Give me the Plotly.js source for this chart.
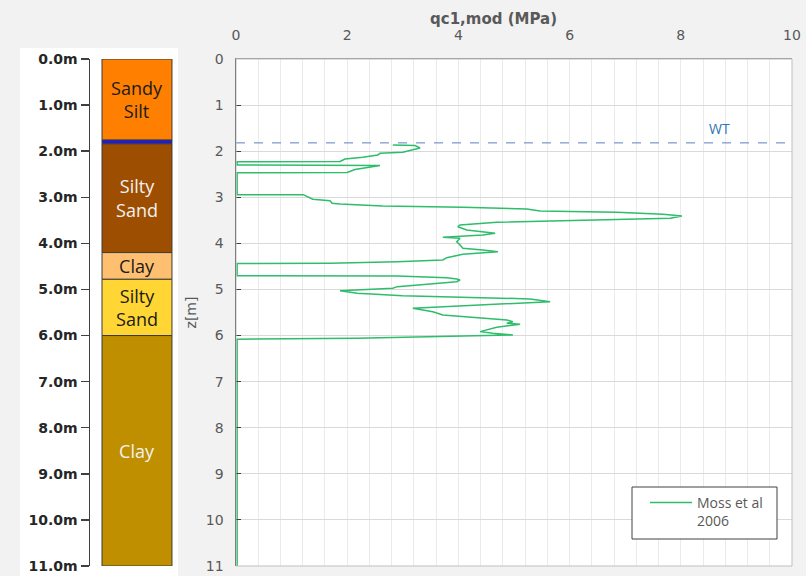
<!DOCTYPE html>
<html>
<head>
<meta charset="utf-8">
<script src="https://cdn.plot.ly/plotly-3.0.1.min.js"></script>
<style>
  html, body { margin: 0; padding: 0; background: #F2F2F2; }
  #chart { width: 806px; height: 576px; }
</style>
</head>
<body>
<div id="chart"></div>
<script>
// CPT profile: normalised cone resistance qc1,mod (MPa) against depth z (m)
const depth = [1.866, 1.876, 1.931, 2.011, 2.024, 2.046, 2.082, 2.132, 2.169, 2.223, 2.228,
  2.299, 2.304, 2.310, 2.397, 2.462, 2.466, 2.944, 2.944, 2.987, 3.043, 3.074, 3.130, 3.145,
  3.189, 3.217, 3.254, 3.297, 3.325, 3.369, 3.406, 3.456, 3.492, 3.542, 3.601, 3.638, 3.709,
  3.781, 3.818, 3.855, 3.868, 3.889, 3.963, 4.035, 4.106, 4.143, 4.180, 4.215, 4.236, 4.310,
  4.360, 4.397, 4.432, 4.436, 4.701, 4.707, 4.744, 4.772, 4.794, 4.831, 4.939, 4.974, 5.026,
  5.082, 5.134, 5.206, 5.265, 5.408, 5.482, 5.553, 5.662, 5.699, 5.733, 5.755, 5.820, 5.915,
  5.950, 5.987, 6.059, 6.080, 11.0];
const qc1mod = [2.82, 3.22, 3.31, 3.04, 3.00, 2.59, 2.55, 2.28, 1.96, 1.87, 0.02,
  0.02, 2.34, 2.59, 2.14, 2.00, 0.02, 0.02, 1.21, 1.29, 1.38, 1.69, 1.73, 1.87,
  2.64, 4.08, 5.23, 5.47, 6.85, 7.68, 8.02, 7.81, 6.49, 4.69, 4.03, 3.99, 4.15,
  4.66, 4.44, 3.97, 3.72, 4.03, 3.97, 4.03, 4.08, 4.44, 4.71, 4.33, 4.08, 3.79,
  3.72, 2.90, 1.69, 0.02, 0.02, 2.90, 3.79, 3.97, 4.03, 3.97, 2.90, 2.82, 1.87,
  2.18, 3.00, 5.29, 5.65, 3.18, 3.54, 3.72, 4.87, 4.98, 4.87, 5.11, 4.69, 4.39,
  4.62, 4.98, 2.18, 0.02, 0.02];

// Water table
const wtDepth = 1.82;
const wtRange = [0, 10];

// Soil column
const layerNames  = ['Sandy<br>Silt', '', 'Silty<br>Sand', 'Clay', 'Silty<br>Sand', 'Clay'];
const layerTop    = [0.00, 1.76, 1.84, 4.20, 4.78, 6.00];
const layerBottom = [1.76, 1.84, 4.20, 4.78, 6.00, 11.00];
const layerFill   = ['#FF8000', '#1A1AF0', '#9E4E00', '#FFBF70', '#FFD633', '#BF8F00'];
const layerText   = ['#1A1A1A', '#FFFFFF', '#F2F2F2', '#1A1A1A', '#1A1A1A', '#F2F2F2'];

// Depth ticks
const depthTicks = [0, 1, 2, 3, 4, 5, 6, 7, 8, 9, 10, 11];
const depthTickText = depthTicks.map(d => d.toFixed(1) + 'm');

const W = 806, H = 576;
const px = v => v / W;
const py = v => 1 - v / H;
const plotY = [py(566), py(59)];

const soil = {
  type: 'bar',
  xaxis: 'x2', yaxis: 'y2',
  x: layerTop.map(() => 0.534),
  base: layerTop,
  y: layerTop.map((t, i) => layerBottom[i] - t),
  width: 0.795,
  marker: { color: layerFill, line: { color: '#3A3A3A', width: 1 } },
  text: layerNames,
  textposition: 'inside',
  insidetextanchor: 'middle',
  textangle: 0,
  constraintext: 'none',
  textfont: { family: 'Open Sans, sans-serif', size: 18, color: layerText },
  hoverinfo: 'skip',
  showlegend: false
};

const profile = {
  type: 'scatter', mode: 'lines',
  x: qc1mod, y: depth,
  name: 'Moss et al<br>2006',
  line: { color: '#2EBD6B', width: 1.5 },
  hoverinfo: 'x+y'
};

const wt = {
  type: 'scatter', mode: 'lines',
  x: wtRange, y: [wtDepth, wtDepth],
  line: { color: '#5B7FC4', width: 1, dash: 'dash' },
  hoverinfo: 'skip',
  showlegend: false
};

const gray = '#595959';
const axisFont = 'DejaVu Sans, sans-serif';

const layout = {
  width: W, height: H,
  margin: { l: 0, r: 0, t: 0, b: 0 },
  paper_bgcolor: '#F2F2F2',
  plot_bgcolor: '#FFFFFF',
  barmode: 'overlay',
  font: { family: 'Open Sans, sans-serif', color: gray },
  xaxis: {
    domain: [px(236), px(792)],
    anchor: 'y',
    side: 'top',
    range: [0, 10],
    dtick: 2,
    showgrid: true,
    gridcolor: '#EBEBEB',
    minor: { dtick: 0.4, showgrid: true, gridcolor: '#EBEBEB', gridwidth: 1 },
    zeroline: false,
    showline: true,
    linecolor: '#8C8C8C',
    linewidth: 1,
    ticks: '',
    ticklabelstandoff: 12,
    tickfont: { family: axisFont, size: 14, color: gray }
  },
  yaxis: {
    domain: plotY,
    anchor: 'x',
    range: [11, 0],
    dtick: 1,
    showgrid: true,
    gridcolor: '#D9D9D9',
    zeroline: false,
    showline: true,
    linecolor: '#404040',
    linewidth: 1.5,
    ticks: 'inside',
    ticklen: 5,
    tickcolor: '#404040',
    ticklabelstandoff: 8,
    tickfont: { family: axisFont, size: 14, color: gray },
    title: { text: 'z[m]', font: { family: axisFont, size: 14, color: gray }, standoff: 6 }
  },
  xaxis2: {
    domain: [px(90), px(178)],
    anchor: 'y2',
    range: [0, 1],
    visible: false,
    fixedrange: true
  },
  yaxis2: {
    domain: plotY,
    anchor: 'x2',
    range: [11, 0],
    tickvals: depthTicks,
    ticktext: depthTickText,
    showgrid: false,
    zeroline: false,
    showline: true,
    linecolor: '#404040',
    linewidth: 1.5,
    ticks: 'outside',
    ticklen: 8,
    tickwidth: 1.5,
    tickcolor: '#404040',
    ticklabelstandoff: 0,
    tickfont: { size: 14, color: '#262626', family: axisFont, weight: 'bold' }
  },
  shapes: [
    // white panel behind the soil column
    { type: 'rect', xref: 'paper', yref: 'paper', layer: 'below',
      x0: px(20), x1: px(178), y0: 0, y1: py(48),
      fillcolor: '#FFFFFF', line: { width: 0 } },
    // plot frame
    { type: 'rect', xref: 'paper', yref: 'paper', layer: 'above',
      x0: px(236), x1: px(792), y0: py(566), y1: py(59),
      line: { color: '#BFBFBF', width: 1 } },
    // legend box
    { type: 'rect', xref: 'paper', yref: 'paper', layer: 'above',
      x0: px(632), x1: px(777), y0: py(539), y1: py(487),
      fillcolor: '#FFFFFF', line: { color: '#404040', width: 1 } }
  ],
  annotations: [
    { xref: 'paper', yref: 'paper', x: px(493), y: py(19), showarrow: false,
      xanchor: 'center', yanchor: 'middle',
      text: 'qc1,mod (MPa)',
      font: { family: 'DejaVu Sans, sans-serif', size: 15, color: gray, weight: 'bold' } },
    { xref: 'x', yref: 'y', x: 8.7, y: 1.5, showarrow: false,
      text: 'WT', font: { size: 14, color: '#2E75B6' } }
  ],
  legend: {
    x: px(645), y: py(487), xanchor: 'left', yanchor: 'top',
    bgcolor: 'rgba(0,0,0,0)', borderwidth: 0,
    itemwidth: 42,
    font: { size: 14, color: gray },
    valign: 'top'
  },
  showlegend: true
};

Plotly.newPlot('chart', [soil, wt, profile], layout, { displayModeBar: false, staticPlot: true });
</script>
</body>
</html>
